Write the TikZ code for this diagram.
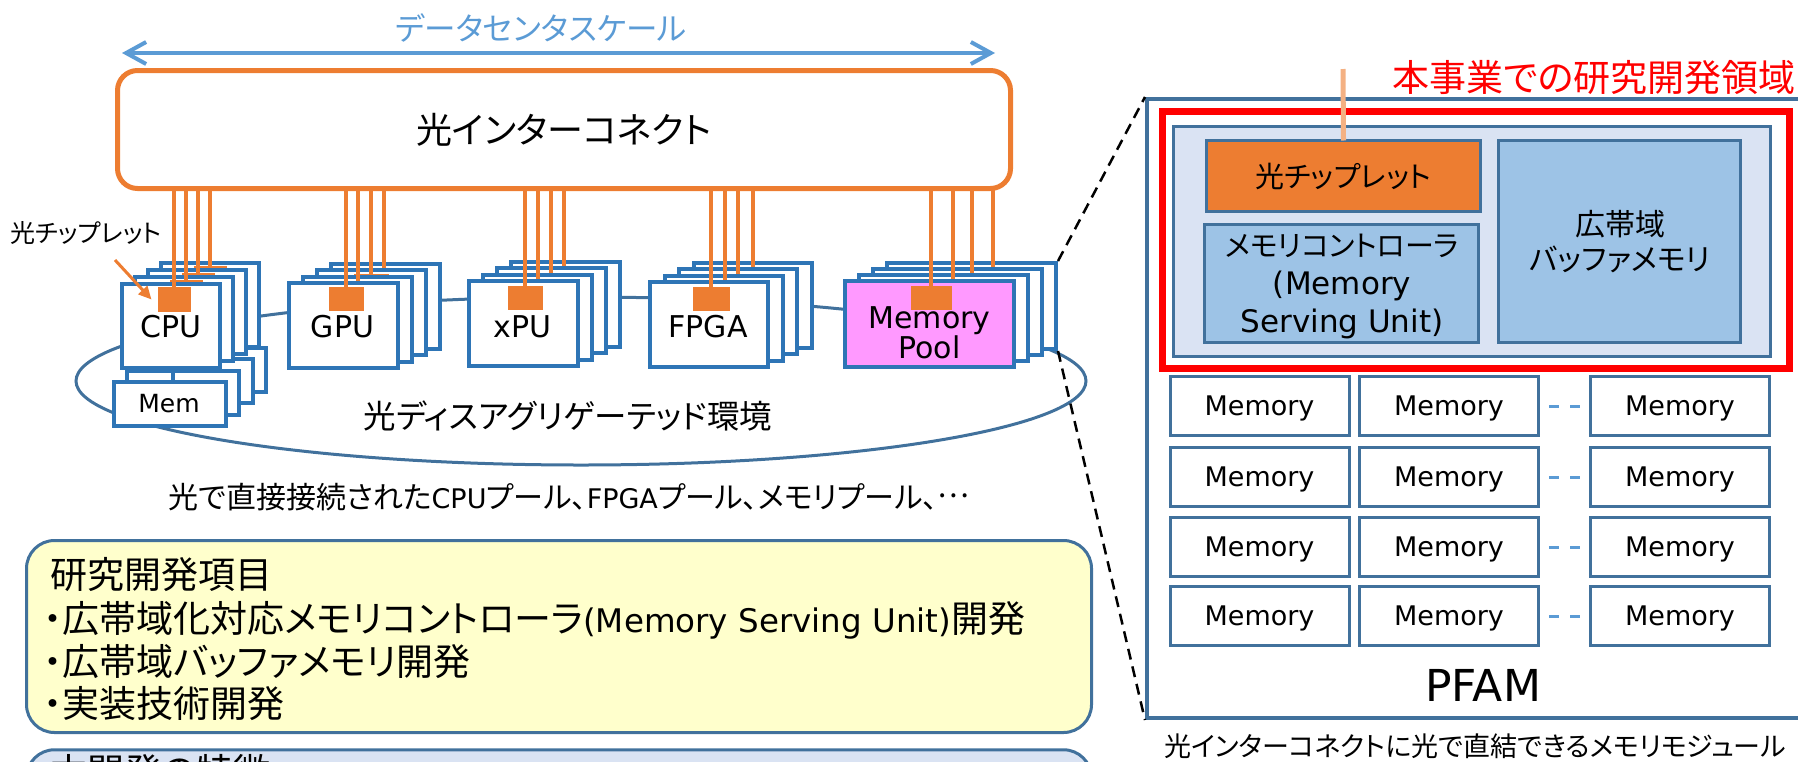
\documentclass[tikz,border=0pt]{standalone}
\usepackage{fontspec}
\setmainfont{DejaVu Sans}
\newfontfamily\jpf[RawFeature=+palt]{Noto Sans CJK JP}
\usetikzlibrary{arrows.meta}
\definecolor{fiberorange}{HTML}{ED7D31}
\definecolor{fiberlight}{HTML}{F4B183}
\definecolor{scaleblue}{HTML}{5B9BD5}
\definecolor{cardblue}{HTML}{2E75B6}
\definecolor{steel}{HTML}{41719C}
\definecolor{poolpink}{HTML}{FF99FF}
\definecolor{panelblue}{HTML}{DAE3F3}
\definecolor{unitblue}{HTML}{9DC3E6}
\definecolor{noteyellow}{HTML}{FFFFCC}
\newcommand\fsz[2]{\fontsize{#1}{#2}\selectfont}

\begin{document}
\begin{tikzpicture}[x=1pt,y=-1pt,
  txt/.style={inner sep=0pt, outer sep=0pt},
  jp/.style={txt, font=\jpf\fsz{#1}{#1}},
  lat/.style={txt, font=\fsz{#1}{#1}},
  card/.style={draw=cardblue, line width=4pt, fill=white, inner sep=0pt},
  chip/.style={fill=fiberorange, inner sep=0pt, outer sep=0pt, minimum width=35pt, minimum height=24pt},
  fiber/.style={draw=fiberorange, line width=4pt},
  unit/.style={draw=steel, line width=3pt, inner sep=0pt},
  memcell/.style={unit, fill=white, minimum width=179pt, minimum height=59pt, font=\fsz{27}{27},
                  text height=19.7pt, text depth=0pt},
  gapdash/.style={draw=scaleblue, line width=3pt, dash pattern=on 10pt off 11pt, shorten <=9pt, shorten >=9pt},
  zoomline/.style={draw=black, line width=2.5pt, dash pattern=on 11pt off 7pt}
]
\useasboundingbox (0,0) rectangle (1798,761);

% ---- disaggregated ring (behind every stack)
\draw[steel, line width=3pt] (581,381) ellipse [x radius=505pt, y radius=84pt];

% ---- optical interconnect and datacenter scale
\node[draw=fiberorange, line width=5pt, rounded corners=20pt, outer sep=0pt,
      minimum width=893pt, minimum height=118pt, jp=36] (oic) at (564,129.5) {光インターコネクト};
\coordinate (scL) at (122,53);
\coordinate (scR) at (995,53);
\draw[scaleblue, line width=4pt, {Straight Barb[length=20pt,width=22pt]}-{Straight Barb[length=20pt,width=22pt]}] (scL) -- (scR);
\node[jp=31.5, text=scaleblue] (sclabel) at (541,28) {データセンタスケール};

% ---- memory cards under the CPU
\foreach \i in {3,2,1,0}
  \node[card, minimum width=112pt, minimum height=44pt] (mem\i) at (170+13.3*\i, 404-11.3*\i) {};
\node[lat=25] (memtxt) at (169,404) {Mem};

% ---- CPU stack
\foreach \i/\lx in {3/210,2/198,1/186,0/174}{
  \node[card, minimum width=98pt, minimum height=84pt] (cpu\i) at (171+13*\i, 326-7*\i) {};
  \node[chip, minimum width=33pt, minimum height=25pt] (cpuchip\i) at (\lx, 299.5-7*\i) {};
  \draw[fiber] (oic.south -| cpuchip\i.north) -- (cpuchip\i.north);
}
\draw[cardblue, line width=4pt] ([xshift=2pt]cpu0.south) -- ([xshift=3pt]mem0.north);
\node[lat=30] (cpulbl) at (171,327) {CPU};

% ---- GPU stack
\foreach \i/\lx in {3/384,2/371,1/358,0/346}{
  \node[card, minimum width=109pt, minimum height=85pt] (gpu\i) at (343.5+14*\i, 325.5-6.3*\i) {};
  \node[chip] (gpuchip\i) at (\lx, 299-6.3*\i) {};
  \draw[fiber] (oic.south -| gpuchip\i.north) -- (gpuchip\i.north);
}
\node[lat=30] (gpulbl) at (342.5,327) {GPU};

% ---- xPU stack
\foreach \i/\lx in {3/564,2/551,1/538,0/525}{
  \node[card, minimum width=109pt, minimum height=85pt] (xpu\i) at (523.5+14*\i, 323.5-6.3*\i) {};
  \node[chip] (xpuchip\i) at (\lx, 297.5-6.3*\i) {};
  \draw[fiber] (oic.south -| xpuchip\i.north) -- (xpuchip\i.north);
}
\node[lat=30] (xpulbl) at (522.5,327) {xPU};

% ---- FPGA stack
\foreach \i/\lx in {3/753,2/738,1/725,0/711}{
  \node[card, minimum width=118pt, minimum height=85pt] (fpga\i) at (709+14.5*\i, 324.5-6.3*\i) {};
  \node[chip, minimum width=37pt] (fpgachip\i) at (\lx, 299-6.3*\i) {};
  \draw[fiber] (oic.south -| fpgachip\i.north) -- (fpgachip\i.north);
}
\node[lat=30] (fpgalbl) at (708,327) {FPGA};

% ---- memory pool stack
\foreach \i/\lx in {3/993,2/972,1/953}{
  \node[card, minimum width=169pt, minimum height=86pt] (mp\i) at (929.5+14*\i, 324-6*\i) {};
  \node[chip, minimum width=41pt] (mpchip\i) at (\lx, 297.5-6*\i) {};
  \draw[fiber] (oic.south -| mpchip\i.north) -- (mpchip\i.north);
}
\node[card, fill=poolpink, minimum width=169pt, minimum height=86pt] (mp0) at (929.5,324) {};
\node[chip, minimum width=41pt] (mpchip0) at (931,297.5) {};
\draw[fiber] (oic.south -| mpchip0.north) -- (mpchip0.north);
\node[lat=30, font=\fsz{30}{27}, align=center] (mplbl) at (929.5,332.5) {Memory\\Pool};

% ---- chiplet callout
\node[jp=25] (chiplbl) at (86,233) {光チップレット};
\coordinate (ptrS) at (115,260);
\draw[fiberorange, line width=3pt, -{Triangle[length=13pt,width=12pt]}] (ptrS) -- ([xshift=-6pt]cpuchip0.west);

% ---- captions under the stacks
\node[jp=32.5] (ringlbl) at (568,416) {光ディスアグリゲーテッド環境};
\node[jp=30] (poollbl) at (569,497) {光で直接接続された{\rmfamily\fsz{27}{27}CPU}プール、{\rmfamily\fsz{27}{27}FPGA}プール、メモリプール、\raisebox{0.36em}{…}};

% ---- research items
\node[draw=steel, line width=3pt, fill=noteyellow, rounded corners=28pt,
      minimum width=1065pt, minimum height=192pt] (items) at (559,636.5) {};
\node[jp=37, anchor=base west] (item0) at (50,588) {研究開発項目};
\node[jp=37, anchor=base west] (item1) at (44,632) {・広帯域化対応メモリコントローラ{\rmfamily\fsz{32.5}{32.5}(Memory Serving Unit)}開発};
\node[jp=37, anchor=base west] (item2) at (44,675) {・広帯域バッファメモリ開発};
\node[jp=37, anchor=base west] (item3) at (44,717) {・実装技術開発};
\node[draw=steel, line width=3pt, fill=panelblue, rounded corners=28pt,
      minimum width=1065pt, minimum height=150pt] (feat) at (559,824.75) {};
\node[jp=37, anchor=base west] (feattxt) at (50,785) {本開発の特徴};

% ---- PFAM module
\node[draw=steel, line width=4pt, fill=white, minimum width=673pt, minimum height=619pt] (pfam) at (1483.5,408.5) {};
\node[draw=red, line width=7pt, minimum width=626.5pt, minimum height=257pt] (rdarea) at (1475.75,240) {};
\node[jp=37, text=red] (rdtitle) at (1594,78) {本事業での研究開発領域};
\node[unit, fill=panelblue, minimum width=597pt, minimum height=230pt] (panel) at (1472,241.5) {};
\node[unit, fill=fiberorange, minimum width=274pt, minimum height=71pt, jp=29] (ochip) at (1343.5,176) {光チップレット};
\node[unit, fill=unitblue, minimum width=274pt, minimum height=118pt] (msu) at (1341.5,283.5) {};
\node[txt, align=center, font=\fsz{31}{38}] (msutxt) at (1342,286)
  {{\jpf\fsz{29}{38}メモリコントローラ}\\(Memory\\Serving Unit)};
\node[unit, fill=unitblue, minimum width=242pt, minimum height=202pt] (buf) at (1619.5,241.5) {};
\node[txt, align=center, font=\jpf\fsz{30}{35}] (buftxt) at (1620,242) {広帯域\\バッファメモリ};
\coordinate (fibtop) at (1343,69);
\draw[fiberlight, line width=5pt] (fibtop) -- (ochip.north);

\foreach \r/\y in {1/406,2/477,3/547,4/616}{
  \foreach \c/\x in {1/1259.5,2/1449,3/1680}
    \node[memcell] (m\r\c) at (\x,\y) {Memory};
  \draw[gapdash] (m\r2.east) -- (m\r3.west);
}
\node[lat=44] (pfamlbl) at (1483,685) {PFAM};
\node[jp=27] (pfamcap) at (1475,746) {光インターコネクトに光で直結できるメモリモジュール};

% ---- zoom-out lines from the memory pool to the module
\draw[zoomline] (mp3.north east) -- (pfam.north west);
\draw[zoomline] (mp3.south east) -- (pfam.south west);
\end{tikzpicture}
\end{document}
